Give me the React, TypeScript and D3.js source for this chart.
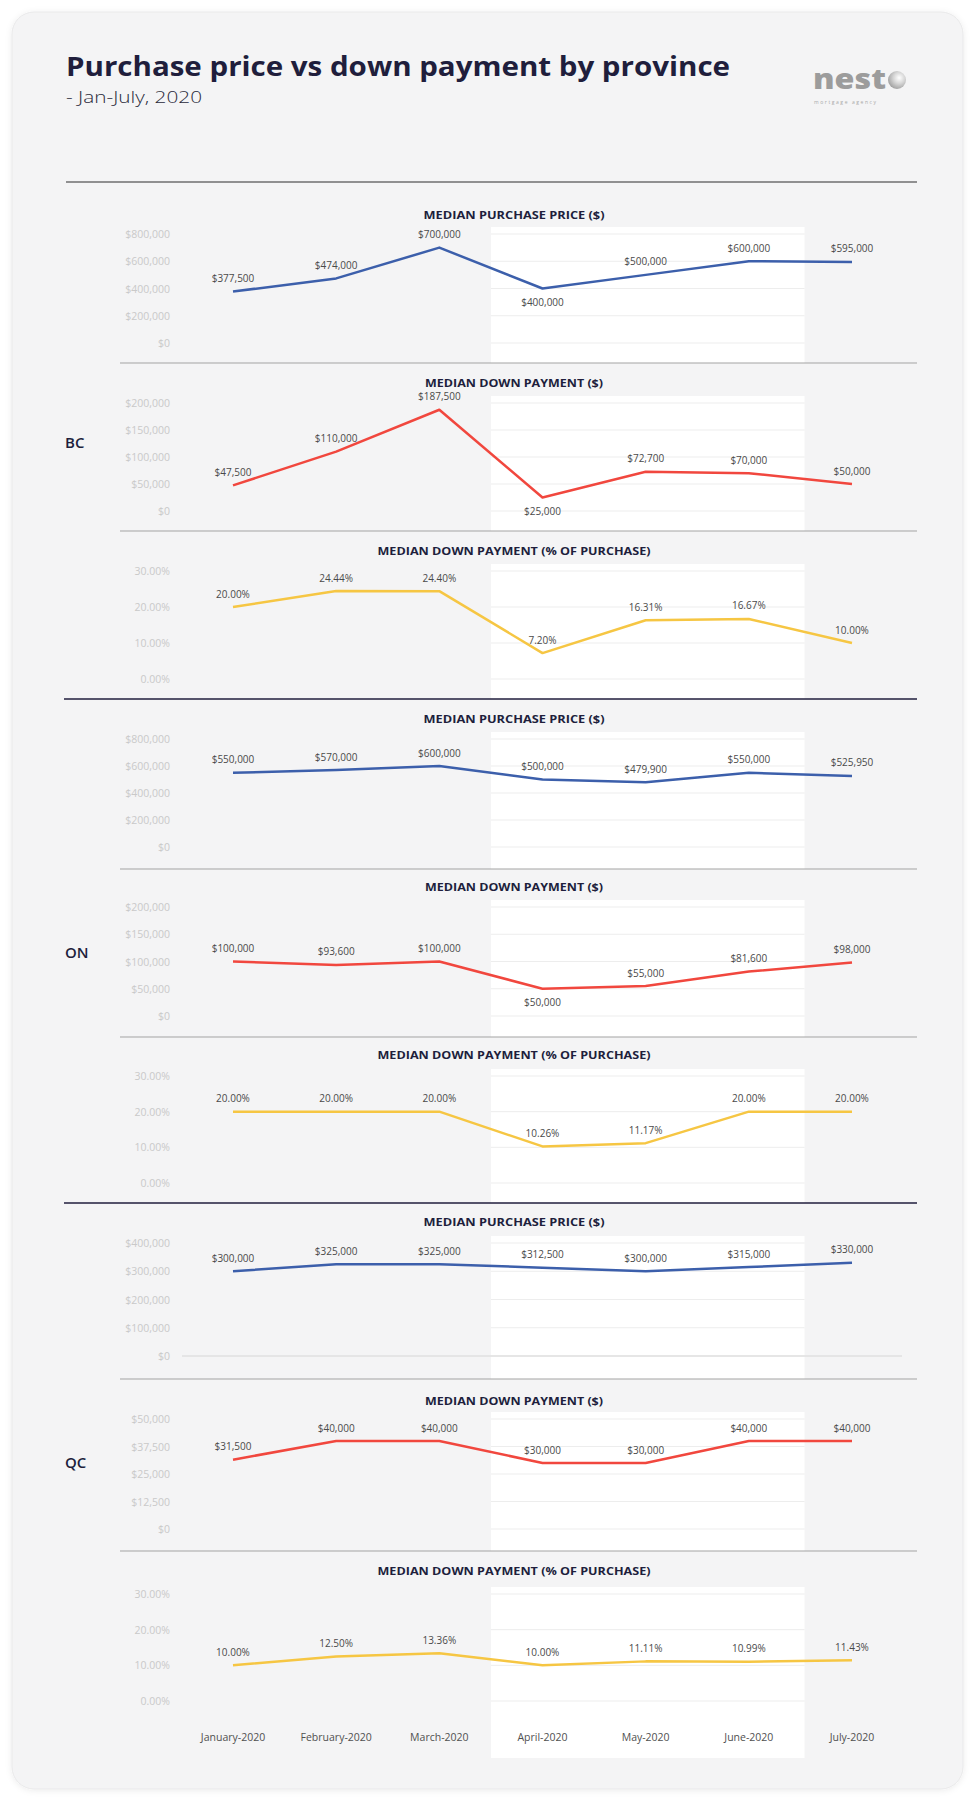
import React from "react";
import * as d3 from "d3";

// months on the shared x axis
const months = [
  "January-2020",
  "February-2020",
  "March-2020",
  "April-2020",
  "May-2020",
  "June-2020",
  "July-2020",
];

// BC
const bcPrice = [377500, 474000, 700000, 400000, 500000, 600000, 595000];
const bcDown = [47500, 110000, 187500, 25000, 72700, 70000, 50000];
const bcPct = [20.0, 24.44, 24.4, 7.2, 16.31, 16.67, 10.0];
// ON
const onPrice = [550000, 570000, 600000, 500000, 479900, 550000, 525950];
const onDown = [100000, 93600, 100000, 50000, 55000, 81600, 98000];
const onPct = [20.0, 20.0, 20.0, 10.26, 11.17, 20.0, 20.0];
// QC
const qcPrice = [300000, 325000, 325000, 312500, 300000, 315000, 330000];
const qcDown = [31500, 40000, 40000, 30000, 30000, 40000, 40000];
const qcPct = [10.0, 12.5, 13.36, 10.0, 11.11, 10.99, 11.43];

// tick values
const ticksPrice800 = [0, 200000, 400000, 600000, 800000];
const ticksPrice400 = [0, 100000, 200000, 300000, 400000];
const ticksDown200 = [0, 50000, 100000, 150000, 200000];
const ticksDown50 = [0, 12500, 25000, 37500, 50000];
const ticksPct = [0, 10, 20, 30];

const titles = {
  price: "MEDIAN PURCHASE PRICE ($)",
  down: "MEDIAN DOWN PAYMENT ($)",
  pct: "MEDIAN DOWN PAYMENT (% OF PURCHASE)",
};

const provinces = ["BC", "ON", "QC"];

type Kind = "price" | "down" | "pct";

const panels: {
  kind: Kind;
  values: number[];
  ticks: number[];
  below: number[];
  axisLine?: boolean;
}[] = [
  { kind: "price", values: bcPrice, ticks: ticksPrice800, below: [3] },
  { kind: "down", values: bcDown, ticks: ticksDown200, below: [3] },
  { kind: "pct", values: bcPct, ticks: ticksPct, below: [] },
  { kind: "price", values: onPrice, ticks: ticksPrice800, below: [] },
  { kind: "down", values: onDown, ticks: ticksDown200, below: [3] },
  { kind: "pct", values: onPct, ticks: ticksPct, below: [] },
  { kind: "price", values: qcPrice, ticks: ticksPrice400, below: [], axisLine: true },
  { kind: "down", values: qcDown, ticks: ticksDown50, below: [] },
  { kind: "pct", values: qcPct, ticks: ticksPct, below: [] },
];

// vertical layout of each panel (separator, title baseline, plot top / bottom)
const layout = [
  { sep: 182, title: 219, top: 234, bottom: 343 },
  { sep: 363, title: 387, top: 403, bottom: 511 },
  { sep: 531, title: 555, top: 571, bottom: 679 },
  { sep: 699, title: 723, top: 739, bottom: 847 },
  { sep: 869, title: 891, top: 907, bottom: 1016 },
  { sep: 1037, title: 1059, top: 1076, bottom: 1183 },
  { sep: 1203, title: 1226, top: 1243, bottom: 1356 },
  { sep: 1379, title: 1405, top: 1419, bottom: 1529 },
  { sep: 1551, title: 1575, top: 1594, bottom: 1701 },
];
const provinceY = [448, 958, 1468];

const W = 978;
const H = 1806;
const FONT = "'Open Sans', 'Noto Sans', sans-serif";
const NAVY = "#201e3c";

const colors: Record<Kind, string> = {
  price: "#3c5fab",
  down: "#f1473e",
  pct: "#f6c643",
};

const titleLen: Record<Kind, number> = { price: 181, down: 178, pct: 273 };

const fmtMoney = d3.format("$,");
const fmtPct = (v: number) => v.toFixed(2) + "%";

export default function App() {
  const x = d3.scalePoint<string>().domain(months).range([233, 852]);
  const step = x.step();
  const stripeL = (x("April-2020") as number) - step * 0.5;
  const stripeR = (x("June-2020") as number) + step * 0.54;

  return (
    <svg
      width={W}
      height={H}
      style={{ position: "absolute", left: 0, top: 0, display: "block" }}
      fontFamily={FONT}
    >
      <defs>
        <filter id="cardShadow" x="-5%" y="-5%" width="110%" height="110%">
          <feDropShadow dx="0" dy="1" stdDeviation="3" floodColor="#000" floodOpacity="0.08" />
        </filter>
        <radialGradient id="logoO" cx="0.62" cy="0.38" r="0.7">
          <stop offset="0" stopColor="#ffffff" />
          <stop offset="0.45" stopColor="#d6d6d6" />
          <stop offset="1" stopColor="#9a9a9a" />
        </radialGradient>
      </defs>
      <rect width={W} height={H} fill="#ffffff" />
      <rect
        x={12}
        y={12}
        width={951}
        height={1777}
        rx={22}
        fill="#f4f4f5"
        stroke="#e9e9ea"
        filter="url(#cardShadow)"
      />

      {/* header */}
      <text x={66} y={76} fontSize={26} fontWeight={700} fill={NAVY} textLength={664} lengthAdjust="spacingAndGlyphs">
        Purchase price vs down payment by province
      </text>
      <text x={66} y={103} fontSize={16} fontWeight={300} fill="#2a2a3a" textLength={136} lengthAdjust="spacingAndGlyphs">
        - Jan-July, 2020
      </text>

      {/* logo */}
      <text x={813} y={89} fontSize={28} fontWeight={800} fill="#9c9c9c" textLength={73} lengthAdjust="spacingAndGlyphs">
        nest
      </text>
      <circle cx={897} cy={80} r={9} fill="url(#logoO)" />
      <text x={814} y={104} fontSize={5} fill="#a8a8a8" textLength={62}>
        mortgage agency
      </text>

      {/* white stripes behind April - June */}
      {layout.map((l, i) => {
        const next = i < layout.length - 1 ? layout[i + 1].sep : 1758;
        return (
          <rect key={"s" + i} x={stripeL} y={l.top - 7} width={stripeR - stripeL} height={next - (l.top - 7)} fill="#ffffff" />
        );
      })}

      {/* separators */}
      {layout.map((l, i) => {
        if (i === 0) return <line key={"l" + i} x1={66} x2={917} y1={l.sep} y2={l.sep} stroke="#6f6f6f" strokeWidth={1.3} />;
        if (i % 3 === 0)
          return <line key={"l" + i} x1={64} x2={917} y1={l.sep} y2={l.sep} stroke={NAVY} strokeWidth={1.3} />;
        return <line key={"l" + i} x1={120} x2={917} y1={l.sep} y2={l.sep} stroke="#a3a3a3" strokeWidth={1} />;
      })}

      {provinces.map((p, i) => (
        <text key={p} x={65} y={provinceY[i]} fontSize={15} fontWeight={600} fill={NAVY}>
          {p}
        </text>
      ))}

      {panels.map((p, i) => {
        const l = layout[i];
        const max = p.ticks[p.ticks.length - 1];
        const y = d3.scaleLinear().domain([0, max]).range([l.bottom, l.top]);
        const fmt = p.kind === "pct" ? fmtPct : fmtMoney;
        const line = d3
          .line<number>()
          .x((_, j) => x(months[j]) as number)
          .y((d) => y(d));
        return (
          <g key={"p" + i}>
            <text
              x={514}
              y={l.title}
              textAnchor="middle"
              fontSize={11}
              fontWeight={700}
              fill={NAVY}
              textLength={titleLen[p.kind]}
              lengthAdjust="spacingAndGlyphs"
            >
              {titles[p.kind]}
            </text>
            {p.ticks.map((t) => (
              <g key={t}>
                <line x1={stripeL} x2={stripeR} y1={y(t)} y2={y(t)} stroke="#ededed" strokeWidth={1} />
                <text x={170} y={y(t) + 4} textAnchor="end" fontSize={10.5} fill="#c9c9c9">
                  {p.kind === "pct" ? fmtPct(t) : fmtMoney(t)}
                </text>
              </g>
            ))}
            {p.axisLine && (
              <line x1={182} x2={902} y1={y(0)} y2={y(0)} stroke="#d6d6d6" strokeWidth={1} />
            )}
            <path d={line(p.values) || ""} fill="none" stroke={colors[p.kind]} strokeWidth={2.5} strokeLinejoin="round" />
            {p.values.map((v, j) => {
              const below = p.below.includes(j);
              return (
                <text
                  key={j}
                  x={x(months[j]) as number}
                  y={below ? y(v) + 17 : y(v) - 9.5}
                  textAnchor="middle"
                  fontSize={10}
                  fill="#4a4a4a"
                >
                  {fmt(v)}
                </text>
              );
            })}
          </g>
        );
      })}

      {/* x axis labels */}
      {months.map((m) => (
        <text key={m} x={x(m) as number} y={1741} textAnchor="middle" fontSize={10.5} fill="#505050">
          {m}
        </text>
      ))}
    </svg>
  );
}
